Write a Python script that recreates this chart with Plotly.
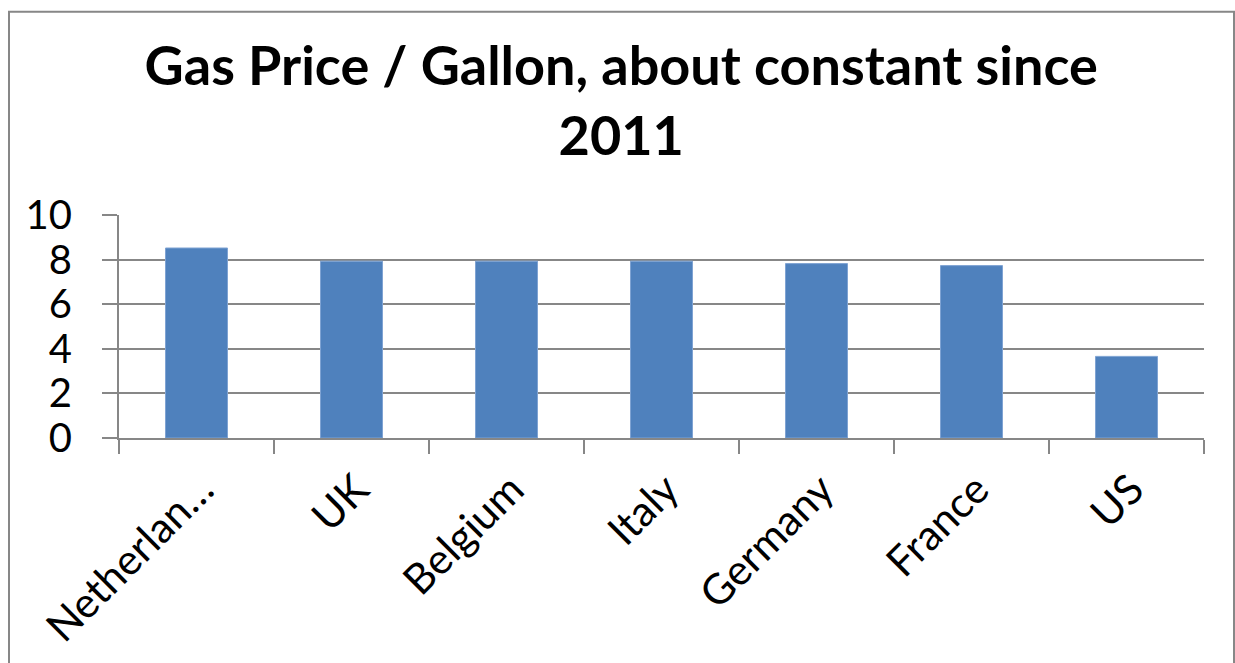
import plotly.graph_objects as go

countries = ["Netherlan…", "UK", "Belgium", "Italy", "Germany", "France", "US"]
prices = [8.52, 7.93, 7.93, 7.93, 7.82, 7.73, 3.66]
y_ticks = [0, 2, 4, 6, 8, 10]

W, H = 1235, 663
ml, mr, mt, mb = 119, 31, 215, 223
pw, ph = W - ml - mr, H - mt - mb

def px_x(p):
    return (p - ml) / pw

def px_y(p):
    return (H - mb - p) / ph

grey = "#878787"

fig = go.Figure(
    go.Bar(
        x=countries,
        y=prices,
        marker=dict(color="#4f81bd", line=dict(color="#7fa3d3", width=1)),
        width=0.4,
    )
)

fig.update_layout(
    width=W,
    height=H,
    margin=dict(l=ml, r=mr, t=mt, b=mb, pad=0),
    paper_bgcolor="white",
    plot_bgcolor="white",
    showlegend=False,
    title=dict(
        text="Gas Price / Gallon, about constant since<br>2011",
        font=dict(family="Lato", size=54, color="black", weight=700),
        x=0.503,
        xanchor="center",
        xref="container",
        y=1 - 85 / H,
        yanchor="top",
        yref="container",
    ),
    shapes=[
        dict(
            type="rect",
            xref="paper",
            yref="paper",
            x0=px_x(9),
            x1=px_x(1234),
            y0=px_y(680),
            y1=px_y(10),
            line=dict(color=grey, width=2),
            fillcolor="rgba(0,0,0,0)",
            layer="below",
        )
    ],
)

fig.update_xaxes(
    type="category",
    tickson="boundaries",
    ticks="outside",
    ticklen=14,
    tickwidth=2,
    tickcolor=grey,
    showline=True,
    linecolor=grey,
    linewidth=2,
    showgrid=False,
    tickangle=-45,
    tickfont=dict(family="Lato", size=42, color="black"),
    ticklabelstandoff=8,
    ticklabelshift=5,
    range=[-0.5, 6.5],
)

fig.update_yaxes(
    range=[0, 10],
    tickvals=y_ticks,
    ticks="outside",
    ticklen=15,
    tickwidth=2,
    tickcolor=grey,
    showline=True,
    linecolor=grey,
    linewidth=2,
    showgrid=True,
    gridcolor=grey,
    gridwidth=2,
    zeroline=False,
    tickfont=dict(family="Lato", size=40, color="black"),
    ticklabelstandoff=22,
)

fig.write_html("out.html")
